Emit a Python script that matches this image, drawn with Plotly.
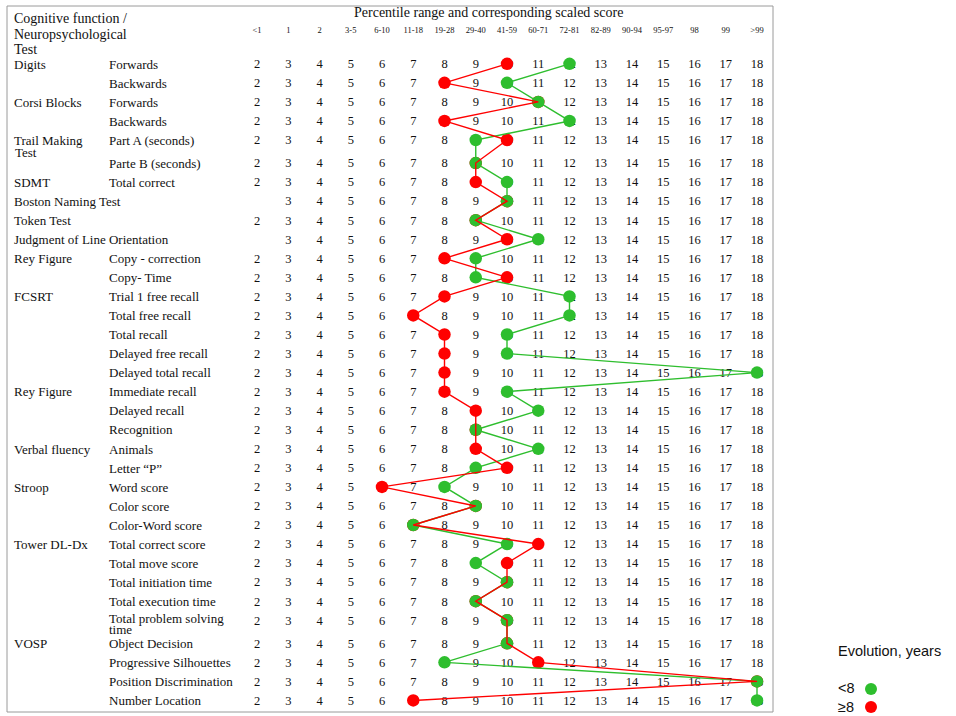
import plotly.graph_objects as go

# ---- data -------------------------------------------------------------
groups = ["Digits", "", "Corsi Blocks", "", "Trail Making|Test", "", "SDMT",
          "Boston Naming Test", "Token Test", "Judgment of Line Orientation",
          "Rey Figure", "", "FCSRT", "", "", "", "", "Rey Figure", "", "",
          "Verbal fluency", "", "Stroop", "", "", "Tower DL-Dx", "", "", "", "",
          "VOSP", "", "", ""]
subtests = ["Forwards", "Backwards", "Forwards", "Backwards", "Part A (seconds)",
            "Parte B (seconds)", "Total correct", "", "", "", "Copy - correction",
            "Copy- Time", "Trial 1 free recall", "Total free recall", "Total recall",
            "Delayed free recall", "Delayed total recall", "Immediate recall",
            "Delayed recall", "Recognition", "Animals", "Letter \u201cP\u201d",
            "Word score", "Color score", "Color-Word score", "Total correct score",
            "Total move score", "Total initiation time", "Total execution time",
            "Total problem solving|time", "Object Decision", "Progressive Silhouettes",
            "Position Discrimination", "Number Location"]
# lowest scaled score available for each test
lowest_score = [2, 2, 2, 2, 2, 2, 2, 3, 2, 3, 2, 2, 2, 2, 2, 2, 2,
                2, 2, 2, 2, 2, 2, 2, 2, 2, 2, 2, 2, 2, 2, 2, 2, 2]
# scaled scores by disease evolution
score_lt8 = [12, 10, 11, 12, 9, 9, 10, 10, 9, 11, 9, 9, 12, 12, 10, 10, 18,
             10, 11, 9, 11, 9, 8, 9, 7, 10, 9, 10, 9, 10, 10, 8, 18, 18]
score_ge8 = [10, 8, 11, 8, 10, 9, 9, 10, 9, 10, 8, 10, 8, 7, 8, 8, 8,
             8, 9, 9, 9, 10, 6, 9, 7, 11, 10, 10, 9, 10, 10, 11, 18, 7]
scaled_scores = list(range(2, 19))
percentiles = ["<1", "1", "2", "3-5", "6-10", "11-18", "19-28", "29-40", "41-59",
               "60-71", "72-81", "82-89", "90-94", "95-97", "98", "99", ">99"]

# ---- layout helpers ----------------------------------------------------
W, H = 956, 716
SERIF = "Liberation Serif"
SANS = "Liberation Sans"
GREEN = "#2EBE2E"
RED = "#FF0000"

# row positions (pixel units on a reversed y axis); wrapped labels push rows down
row_y = []
extra = 0.0
for i, lab in enumerate(subtests):
    if i > 0 and ("|" in groups[i - 1] or "|" in subtests[i - 1]):
        extra += 4
    row_y.append(65 + i * 19.05 + extra)
mark_y = [y - 1.2 for y in row_y]

# x axis: scaled score, laid out so that score 2 sits at 257px and step is 31.25px
x0_px, step = 257.0, 31.25
x_lo = 2 - x0_px / step
x_hi = 2 + (W - x0_px) / step


def px(xp):
    return xp / W


fig = go.Figure()

# grid of scaled-score numbers
nx, ny, nt = [], [], []
for i, y in enumerate(row_y):
    for s in scaled_scores:
        if s >= lowest_score[i]:
            nx.append(s)
            ny.append(y)
            nt.append(str(s))
fig.add_trace(go.Scatter(x=nx, y=ny, text=nt, mode="text",
                         textfont=dict(family=SERIF, size=12.5, color="#111"),
                         hoverinfo="skip", showlegend=False, cliponaxis=False))

# percentile header row
fig.add_trace(go.Scatter(x=scaled_scores, y=[31] * len(scaled_scores), text=percentiles,
                         mode="text", textfont=dict(family=SERIF, size=8.5, color="#111"),
                         hoverinfo="skip", showlegend=False, cliponaxis=False))

# >=8 years markers (beneath), <8 years line+markers, >=8 years line on top
fig.add_trace(go.Scatter(x=score_ge8, y=mark_y, mode="markers",
                         marker=dict(color=RED, size=12.5),
                         name="\u22658", showlegend=False, cliponaxis=False))
fig.add_trace(go.Scatter(x=score_lt8, y=mark_y, mode="lines+markers",
                         line=dict(color=GREEN, width=1.4),
                         marker=dict(color=GREEN, size=12.5),
                         name="<8", showlegend=False, cliponaxis=False))
fig.add_trace(go.Scatter(x=score_ge8, y=mark_y, mode="lines",
                         line=dict(color=RED, width=1.4),
                         name="\u22658", showlegend=False, cliponaxis=False))

ann = []


def label(x, y, text, size=13, family=SERIF, color="#111"):
    ann.append(dict(x=px(x), y=y, xref="paper", yref="y", text=text, showarrow=False,
                    xanchor="left", yanchor="middle",
                    font=dict(family=family, size=size, color=color)))


# header text
label(12, 18, "Cognitive function /", size=14)
label(12, 34, "Neuropsychological", size=14)
label(12, 49.5, "Test", size=14)
ann.append(dict(x=px(488), y=12, xref="paper", yref="y", showarrow=False,
                text="Percentile range and corresponding scaled score",
                xanchor="center", yanchor="middle",
                font=dict(family=SERIF, size=14, color="#111")))

# row labels
for i, y in enumerate(row_y):
    g = groups[i]
    if g:
        parts = g.split("|")
        for k, p in enumerate(parts):
            label(12 + (1 if k else 0), y - 1 + 12 * k, p)
    st = subtests[i]
    if st:
        parts = st.split("|")
        for k, p in enumerate(parts):
            label(107, y - 1 - (2 if len(parts) > 1 else 0) + 11 * k, p)

# legend
label(836, 651, "Evolution, years", size=14.5, family=SANS)
label(836, 688, "<8", size=14.5, family=SANS)
label(836, 707, "\u22658", size=14.5, family=SANS)

shapes = [
    dict(type="rect", xref="paper", yref="y", x0=px(7), x1=px(773), y0=6, y1=712,
         line=dict(color="#9a9a9a", width=1), fillcolor="rgba(0,0,0,0)", layer="below"),
    dict(type="circle", xref="paper", yref="y", x0=px(865), x1=px(877), y0=683, y1=695,
         fillcolor=GREEN, line=dict(width=0)),
    dict(type="circle", xref="paper", yref="y", x0=px(865), x1=px(877), y0=701, y1=713,
         fillcolor=RED, line=dict(width=0)),
]

fig.update_layout(
    width=W, height=H,
    margin=dict(l=0, r=0, t=0, b=0),
    paper_bgcolor="white", plot_bgcolor="white",
    xaxis=dict(range=[x_lo, x_hi], visible=False, fixedrange=True),
    yaxis=dict(range=[H, 0], visible=False, fixedrange=True),
    annotations=ann, shapes=shapes,
    showlegend=False,
)

fig.write_html("out.html")
